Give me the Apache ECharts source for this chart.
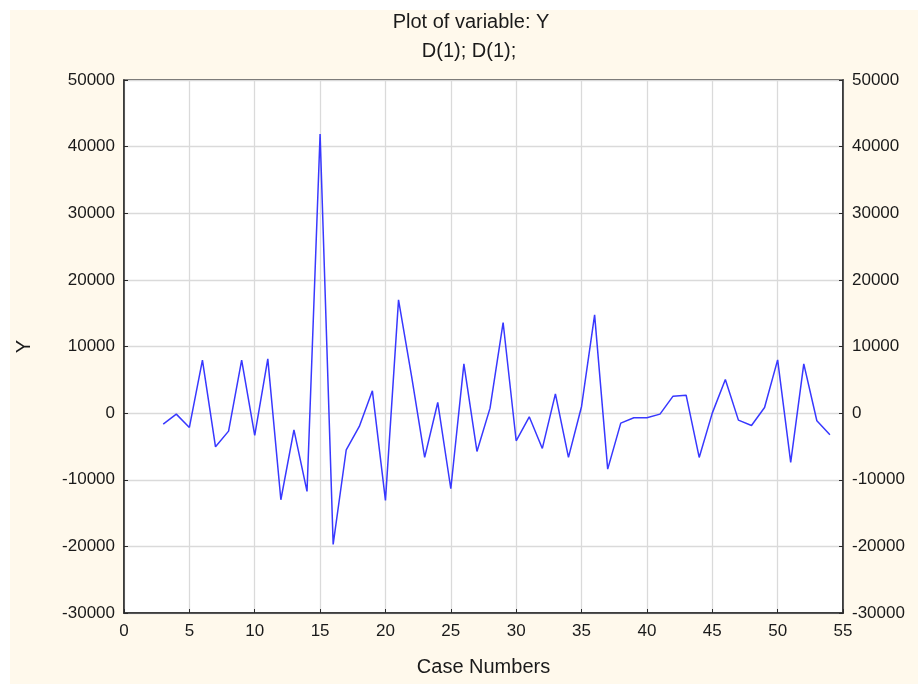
<!DOCTYPE html>
<html>
<head>
<meta charset="utf-8">
<style>
  html, body { margin: 0; padding: 0; background: #ffffff; }
  #chart { width: 918px; height: 684px; }
</style>
<script src="https://cdn.jsdelivr.net/npm/echarts@6/dist/echarts.min.js"></script>
</head>
<body>
<div id="chart"></div>
<script>
// Case numbers (first differences start at case 3)
const caseNumbers = [3, 4, 5, 6, 7, 8, 9, 10, 11, 12, 13, 14, 15, 16, 17, 18, 19, 20,
  21, 22, 23, 24, 25, 26, 27, 28, 29, 30, 31, 32, 33, 34, 35, 36, 37, 38, 39, 40,
  41, 42, 43, 44, 45, 46, 47, 48, 49, 50, 51, 52, 53, 54];

// Y after D(1); D(1);
const yValues = [-1650, -150, -2150, 7950, -5050, -2700, 7950, -3350, 8150, -13000,
  -2500, -11750, 41900, -19700, -5500, -2000, 3350, -13100, 17000, 5500,
  -6650, 1600, -11350, 7400, -5750, 750, 13600, -4150, -550, -5300,
  2900, -6650, 1000, 14750, -8400, -1500, -700, -700, -150, 2550,
  2700, -6650, 0, 5050, -1050, -1850, 850, 8000, -7400, 7400,
  -1150, -3250];

const xTicks = [0, 5, 10, 15, 20, 25, 30, 35, 40, 45, 50, 55];
const yTicks = [-30000, -20000, -10000, 0, 10000, 20000, 30000, 40000, 50000];

const FONT = '"Liberation Sans", Arial, sans-serif';
const TEXT = '#1a1a1a';
const plainNumber = v => String(v);

const chart = echarts.init(document.getElementById('chart'), null, { renderer: 'canvas' });

const yAxisCommon = {
  type: 'value',
  min: yTicks[0],
  max: yTicks[yTicks.length - 1],
  interval: yTicks[1] - yTicks[0],
  axisLine: { show: true, onZero: false, lineStyle: { color: '#2a2a2a', width: 1.5 } },
  axisTick: { show: true, inside: true, length: 4, lineStyle: { color: '#2a2a2a' } },
  axisLabel: { color: TEXT, fontSize: 17, fontFamily: FONT, margin: 9, formatter: plainNumber }
};

chart.setOption({
  backgroundColor: '#ffffff',
  animation: false,
  graphic: [{
    type: 'rect',
    z: -10,
    silent: true,
    shape: { x: 10, y: 10, width: 908, height: 674 },
    style: { fill: '#fff9ec' }
  }],
  title: [
    { text: 'Plot of variable: Y', left: 466, top: 7, textAlign: 'center',
      textStyle: { color: TEXT, fontSize: 20, fontWeight: 'normal', fontFamily: FONT } },
    { text: 'D(1); D(1);', left: 464, top: 36, textAlign: 'center',
      textStyle: { color: TEXT, fontSize: 20, fontWeight: 'normal', fontFamily: FONT } }
  ],
  grid: {
    left: 124, right: 75, top: 80, bottom: 71,
    show: true, backgroundColor: '#ffffff', borderColor: '#2a2a2a', borderWidth: 1.5
  },
  xAxis: {
    type: 'value',
    min: xTicks[0],
    max: xTicks[xTicks.length - 1],
    interval: xTicks[1] - xTicks[0],
    name: 'Case Numbers',
    nameLocation: 'middle',
    nameGap: 44,
    nameTextStyle: { color: TEXT, fontSize: 20, fontFamily: FONT },
    axisLine: { show: true, onZero: false, lineStyle: { color: '#2a2a2a', width: 1.5 } },
    axisTick: { show: true, inside: true, length: 4, lineStyle: { color: '#2a2a2a' } },
    axisLabel: { color: TEXT, fontSize: 17, fontFamily: FONT, margin: 10, formatter: plainNumber },
    splitLine: { show: true, lineStyle: { color: '#dadada', width: 1.3 } }
  },
  yAxis: [
    Object.assign({}, yAxisCommon, {
      position: 'left',
      name: 'Y',
      nameLocation: 'middle',
      nameRotate: 90,
      nameGap: 90,
      nameTextStyle: { color: TEXT, fontSize: 20, fontFamily: FONT },
      splitLine: { show: true, lineStyle: { color: '#dadada', width: 1.3 } }
    }),
    Object.assign({}, yAxisCommon, {
      position: 'right',
      splitLine: { show: false }
    })
  ],
  series: [{
    type: 'line',
    data: caseNumbers.map((c, i) => [c, yValues[i]]),
    showSymbol: false,
    symbol: 'none',
    lineStyle: { color: '#3838ff', width: 1.5 },
    z: 5
  }]
});
</script>
</body>
</html>
